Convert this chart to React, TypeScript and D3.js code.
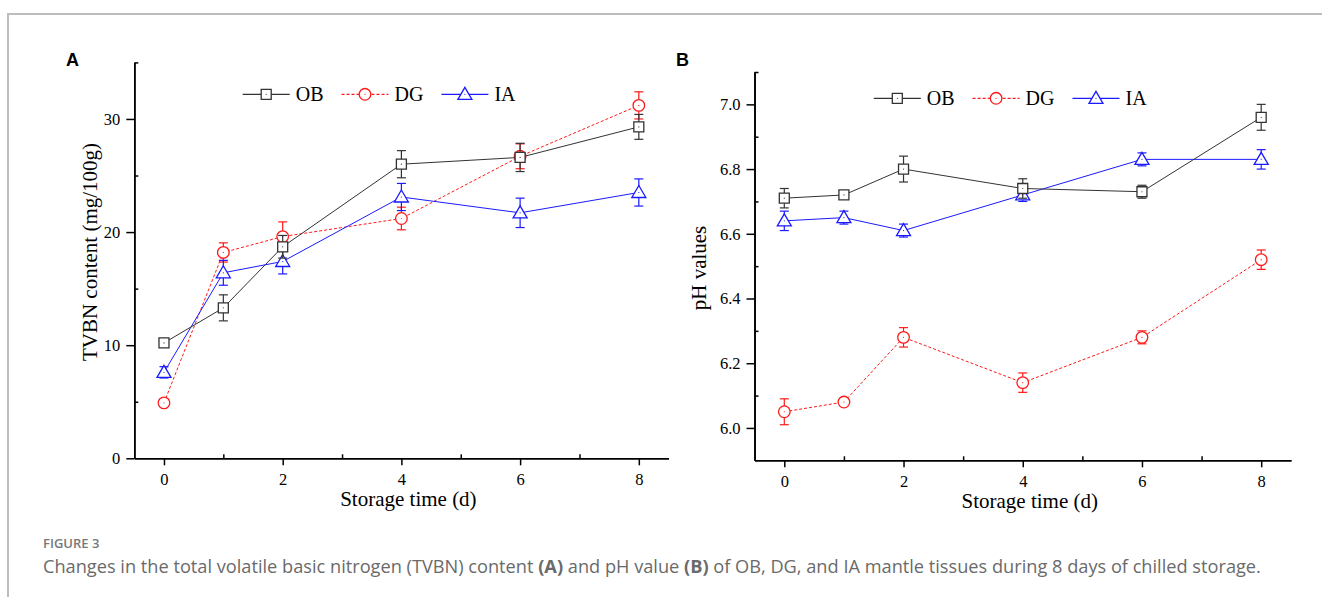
import React, { useEffect, useRef } from "react";
import * as d3 from "d3";

// storage days
const days = [0, 1, 2, 4, 6, 8];

// TVBN content (mg/100g)
const obTvbn = [10.2, 13.3, 18.7, 26.0, 26.6, 29.3];
const obTvbnErr = [0.3, 1.15, 1.0, 1.2, 1.25, 1.1];
const dgTvbn = [4.9, 18.2, 19.6, 21.2, 26.7, 31.2];
const dgTvbnErr = [0.3, 0.85, 1.3, 1.0, 1.1, 1.2];
const iaTvbn = [7.6, 16.4, 17.4, 23.1, 21.7, 23.5];
const iaTvbnErr = [0.5, 1.1, 1.1, 1.2, 1.3, 1.2];

// pH values
const obPh = [6.71, 6.72, 6.8, 6.74, 6.73, 6.96];
const obPhErr = [0.03, 0.01, 0.04, 0.03, 0.02, 0.04];
const dgPh = [6.05, 6.08, 6.28, 6.14, 6.28, 6.52];
const dgPhErr = [0.04, 0.01, 0.03, 0.03, 0.02, 0.03];
const iaPh = [6.64, 6.65, 6.61, 6.72, 6.83, 6.83];
const iaPhErr = [0.03, 0.02, 0.02, 0.02, 0.02, 0.03];

const xMajor = [0, 2, 4, 6, 8];
const xMinor = [1, 3, 5, 7];
const tvbnMajor = [0, 10, 20, 30];
const tvbnMinor = [5, 15, 25, 35];
const phMajor = [6.0, 6.2, 6.4, 6.6, 6.8, 7.0];
const phMinor = [6.1, 6.3, 6.5, 6.7, 6.9, 7.1];

const seriesNames = ["OB", "DG", "IA"];
const styles = {
  OB: { color: "#333333", dash: null, marker: "square" },
  DG: { color: "#ff1a1a", dash: "3,2", marker: "circle" },
  IA: { color: "#1a1aff", dash: null, marker: "triangle" },
};

const SERIF = "'Liberation Serif', 'Times New Roman', serif";

function markerPath(kind) {
  if (kind === "square") return "M-5,-5H5V5H-5Z";
  if (kind === "circle") return d3.symbol(d3.symbolCircle, Math.PI * 5.8 * 5.8)();
  return "M0,-7L7,5H-7Z";
}

function drawPanel(svg, cfg) {
  const { xRange, yRange, yDomain, yMajor, yMinor, yFmt, series, letter, letterPos, yTitle, yTitlePos, legendPos } = cfg;
  const x = d3.scaleLinear().domain([-0.5, 8.5]).range(xRange);
  const y = d3.scaleLinear().domain(yDomain).range(yRange);
  const g = svg.append("g");
  const x0 = xRange[0];
  const yBase = yRange[0];

  // axes: major ticks outward, minor inward
  const xAxisG = g.append("g").attr("transform", `translate(0,${yBase})`);
  xAxisG.call(d3.axisBottom(x).tickValues(xMajor).tickSize(7).tickSizeOuter(0).tickPadding(8).tickFormat(d3.format("d")));
  const xMinorG = g.append("g").attr("transform", `translate(0,${yBase})`);
  xMinorG.call(d3.axisBottom(x).tickValues(xMinor).tickSize(-4).tickSizeOuter(0).tickFormat(() => ""));
  const yAxisG = g.append("g").attr("transform", `translate(${x0},0)`);
  yAxisG.call(d3.axisLeft(y).tickValues(yMajor).tickSize(8).tickSizeOuter(0).tickPadding(6).tickFormat(yFmt));
  const yMinorG = g.append("g").attr("transform", `translate(${x0},0)`);
  yMinorG.call(d3.axisLeft(y).tickValues(yMinor).tickSize(-4).tickSizeOuter(0).tickFormat(() => ""));

  [xAxisG, xMinorG, yAxisG, yMinorG].forEach((ag) => {
    ag.style("font-family", SERIF).style("font-size", "16.5px");
    ag.selectAll("line").attr("stroke", "#000").attr("stroke-width", 1.5);
    ag.selectAll(".domain").attr("stroke", "#000").attr("stroke-width", 1.6);
    ag.selectAll("text").style("font-family", SERIF).style("font-size", "16.5px").attr("fill", "#000");
  });

  // titles
  g.append("text").attr("x", (xRange[0] + xRange[1]) / 2 + 7).attr("y", yBase + 48)
    .attr("text-anchor", "middle").attr("font-family", SERIF).attr("font-size", 21).text("Storage time (d)");
  g.append("text").attr("transform", `translate(${yTitlePos[0]},${yTitlePos[1]}) rotate(-90)`)
    .attr("text-anchor", "middle").attr("font-family", SERIF).attr("font-size", 21).text(yTitle);
  g.append("text").attr("x", letterPos[0]).attr("y", letterPos[1])
    .attr("font-family", "'Liberation Sans', Arial, sans-serif").attr("font-weight", "bold").attr("font-size", 18)
    .text(letter);

  // series, drawn DG, IA, OB so OB sits on top
  const order = ["DG", "IA", "OB"];
  order.forEach((name) => {
    const s = series[name];
    const st = styles[name];
    const pts = days.map((d, i) => ({ d, v: s.values[i], e: s.errs[i] }));
    const line = d3.line().x((p) => x(p.d)).y((p) => y(p.v));
    g.append("path").datum(pts).attr("d", line).attr("fill", "none")
      .attr("stroke", st.color).attr("stroke-width", 1).attr("stroke-dasharray", st.dash);
    const eb = g.append("g").attr("stroke", st.color).attr("stroke-width", 1.2);
    pts.forEach((p) => {
      const cx = x(p.d);
      eb.append("line").attr("x1", cx).attr("x2", cx).attr("y1", y(p.v + p.e)).attr("y2", y(p.v - p.e));
      [p.v + p.e, p.v - p.e].forEach((v) => {
        eb.append("line").attr("x1", cx - 4.5).attr("x2", cx + 4.5).attr("y1", y(v)).attr("y2", y(v));
      });
    });
    g.append("g").selectAll("g").data(pts).join("g")
      .attr("transform", (p) => `translate(${x(p.d)},${y(p.v)})`)
      .each(function () {
        const m = d3.select(this);
        m.append("path").attr("d", markerPath(st.marker)).attr("fill", "#fff")
          .attr("stroke", st.color).attr("stroke-width", 1.3);
        m.append("circle").attr("r", 0.6).attr("fill", st.color);
      });
  });

  // legend
  let lx = legendPos[0];
  const ly = legendPos[1];
  seriesNames.forEach((name) => {
    const st = styles[name];
    const lg = g.append("g");
    lg.append("line").attr("x1", lx).attr("x2", lx + 47).attr("y1", ly).attr("y2", ly)
      .attr("stroke", st.color).attr("stroke-width", 1.2).attr("stroke-dasharray", st.dash);
    lg.append("path").attr("transform", `translate(${lx + 23.5},${ly})`).attr("d", markerPath(st.marker))
      .attr("fill", "#fff").attr("stroke", st.color).attr("stroke-width", 1.3);
    lg.append("circle").attr("cx", lx + 23.5).attr("cy", ly).attr("r", 0.6).attr("fill", st.color);
    const t = lg.append("text").attr("x", lx + 53).attr("y", ly + 7).attr("font-family", SERIF)
      .attr("font-size", 20).text(name);
    const w = t.node().getComputedTextLength();
    lx += 53 + w + 18;
  });
}

export default function App() {
  const ref = useRef(null);

  useEffect(() => {
    const svg = d3.select(ref.current);
    svg.selectAll("*").remove();

    // frame
    svg.append("rect").attr("x", 0).attr("y", 0).attr("width", 1322).attr("height", 597).attr("fill", "#fff");
    svg.append("path").attr("d", "M8,597V14H1322").attr("fill", "none").attr("stroke", "#bdbdbd").attr("stroke-width", 2);

    drawPanel(svg, {
      xRange: [134.3, 668.5],
      yRange: [458.3, 62.4],
      yDomain: [0, 35],
      yMajor: tvbnMajor,
      yMinor: tvbnMinor,
      yFmt: d3.format("d"),
      series: {
        OB: { values: obTvbn, errs: obTvbnErr },
        DG: { values: dgTvbn, errs: dgTvbnErr },
        IA: { values: iaTvbn, errs: iaTvbnErr },
      },
      letter: "A",
      letterPos: [66, 66],
      yTitle: "TVBN content (mg/100g)",
      yTitlePos: [97, 252],
      legendPos: [242.7, 94.3],
    });

    drawPanel(svg, {
      xRange: [754.5, 1291],
      yRange: [460.3, 72],
      yDomain: [5.9, 7.1],
      yMajor: phMajor,
      yMinor: phMinor,
      yFmt: d3.format(".1f"),
      series: {
        OB: { values: obPh, errs: obPhErr },
        DG: { values: dgPh, errs: dgPhErr },
        IA: { values: iaPh, errs: iaPhErr },
      },
      letter: "B",
      letterPos: [676, 66],
      yTitle: "pH values",
      yTitlePos: [706, 268],
      legendPos: [873.8, 98.3],
    });

    // caption
    svg.append("text").attr("x", 43).attr("y", 548).attr("font-family", "'Open Sans', sans-serif")
      .attr("font-size", 13).attr("font-weight", 600).attr("fill", "#777").text("FIGURE 3");
    const cap = svg.append("text").attr("x", 43).attr("y", 573).attr("font-family", "'Open Sans', sans-serif")
      .attr("font-size", 18.2).attr("fill", "#6a6a6a");
    const parts = [
      ["Changes in the total volatile basic nitrogen (TVBN) content ", false],
      ["(A)", true],
      [" and pH value ", false],
      ["(B)", true],
      [" of OB, DG, and IA mantle tissues during 8 days of chilled storage.", false],
    ];
    parts.forEach(([t, b]) => {
      cap.append("tspan").attr("font-weight", b ? 700 : 400).text(t);
    });
  }, []);

  return (
    <div style={{ position: "absolute", left: 0, top: 0 }}>
      <svg ref={ref} width={1322} height={597} style={{ display: "block" }} />
    </div>
  );
}
